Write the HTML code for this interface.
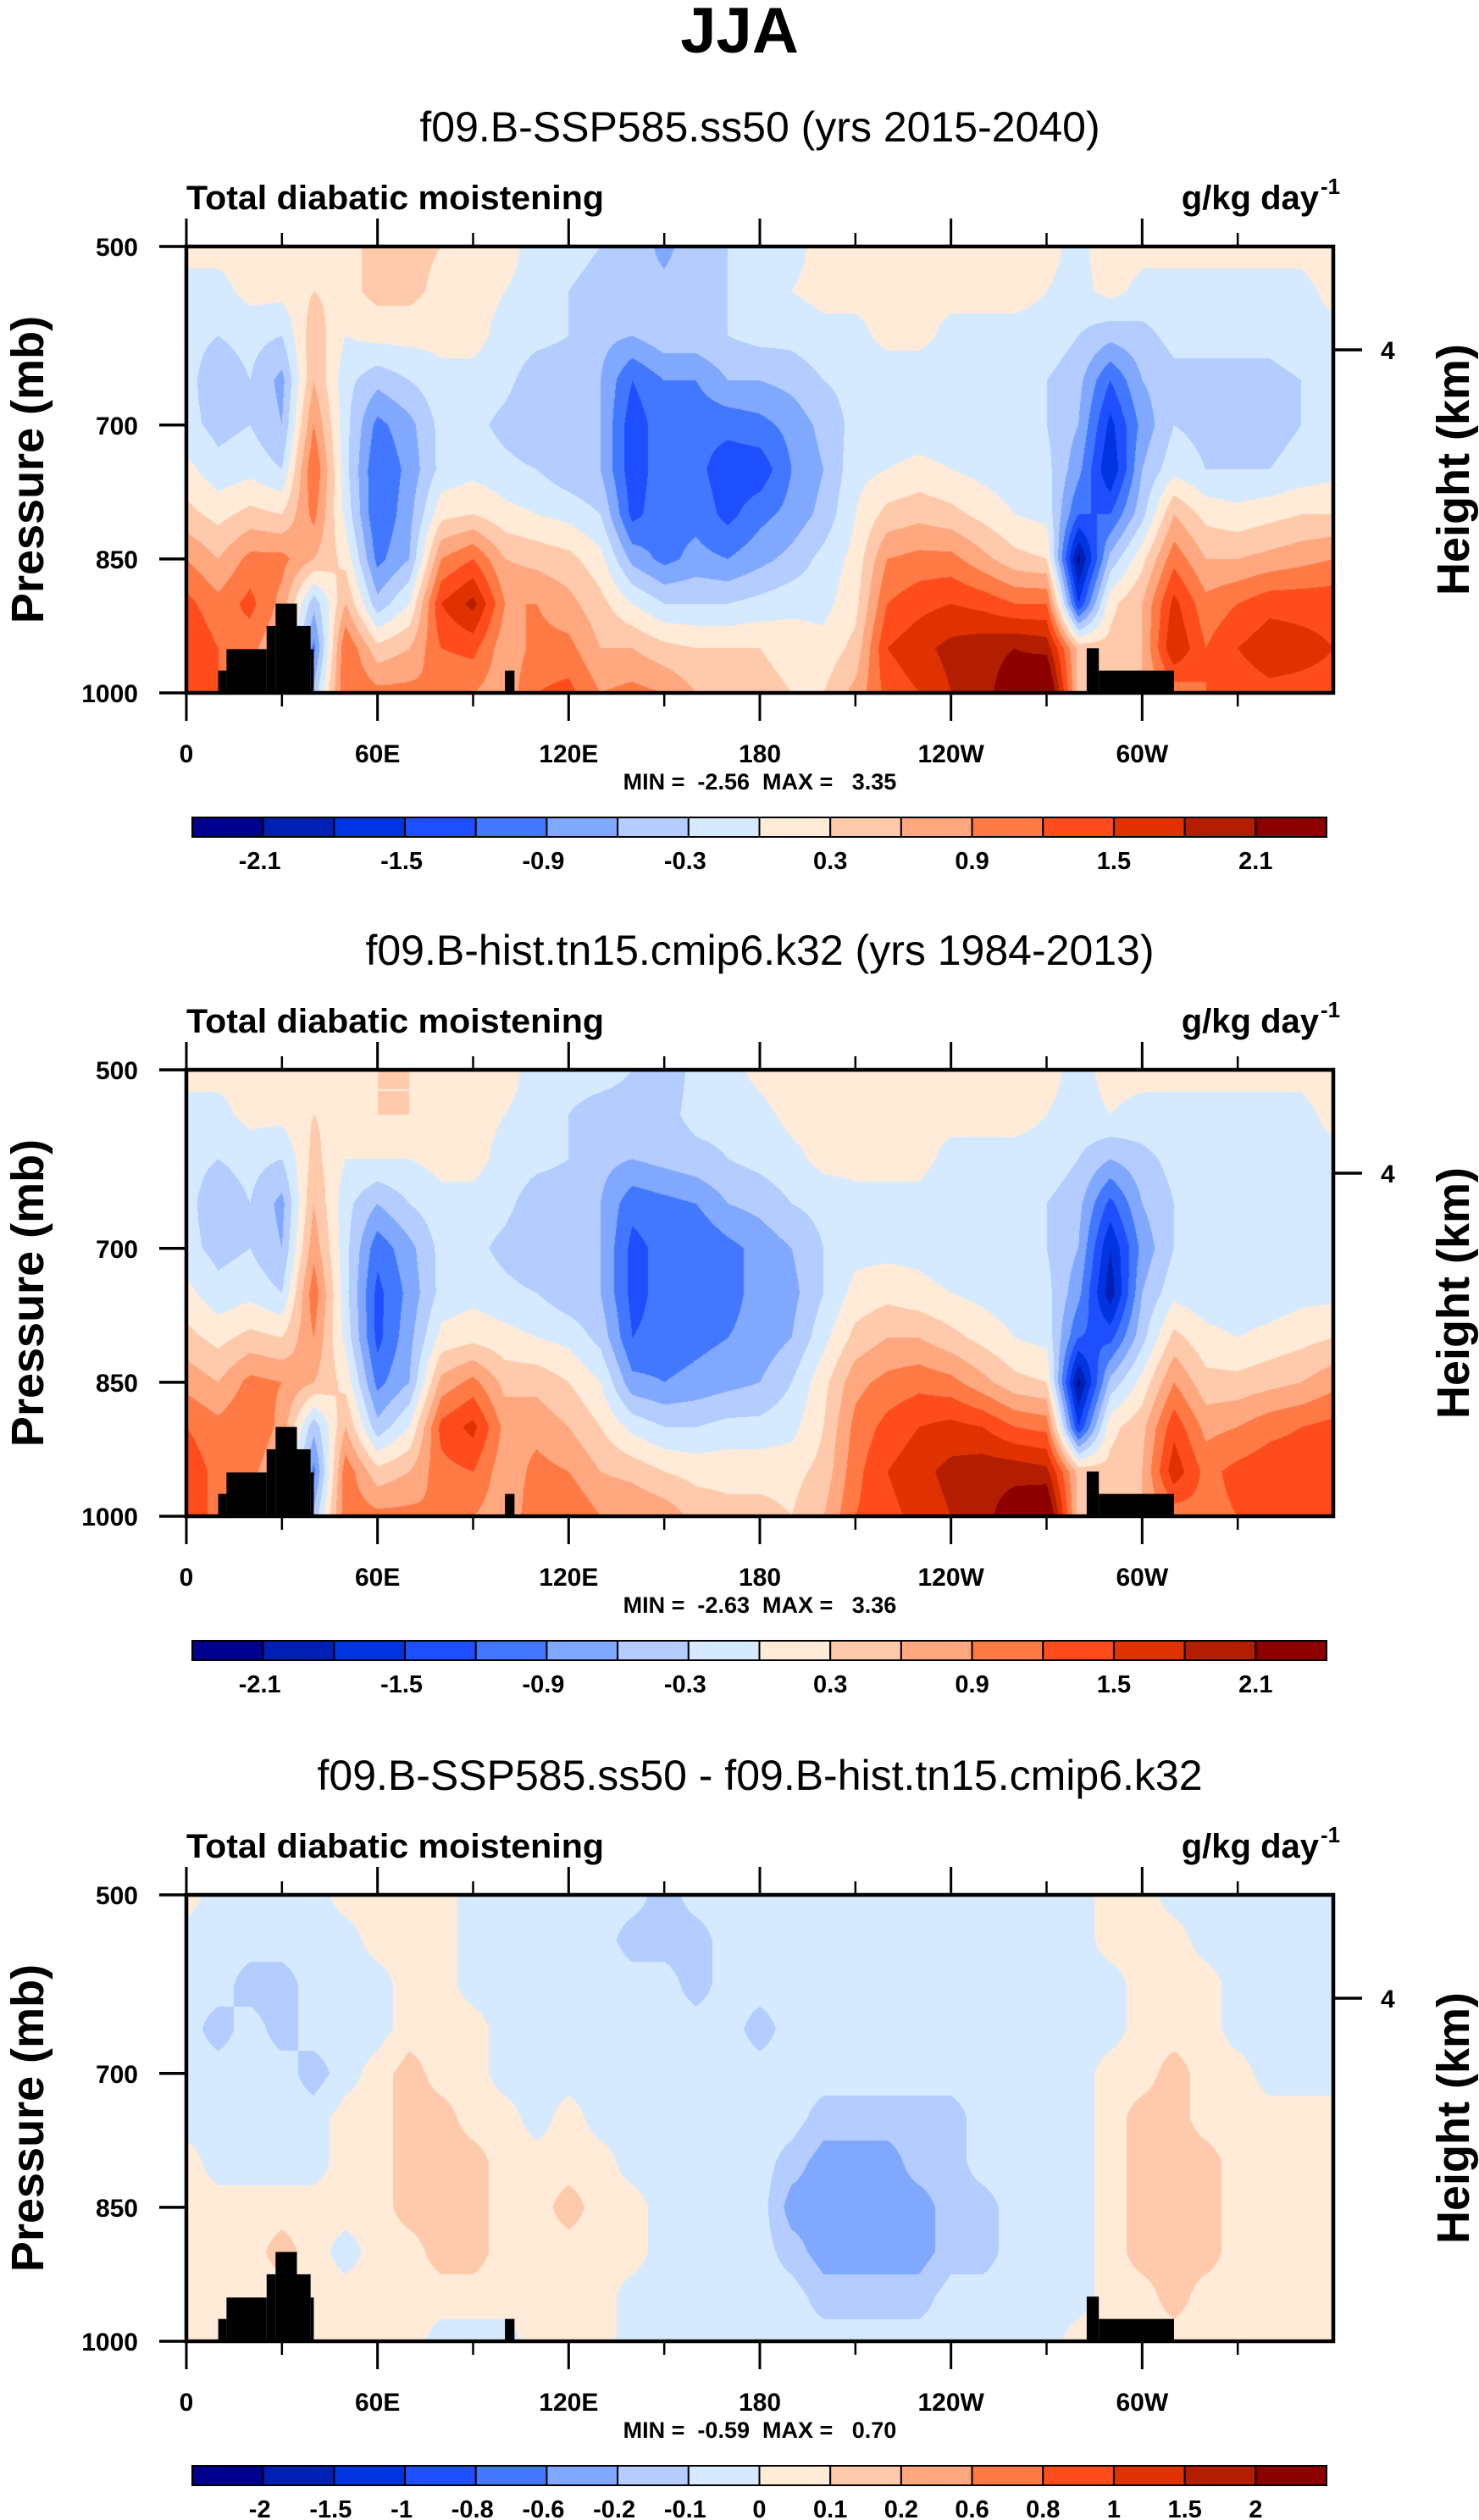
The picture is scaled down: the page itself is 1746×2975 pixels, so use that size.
<!DOCTYPE html>
<html><head><meta charset="utf-8">
<style>
html,body{margin:0;padding:0;background:#fff;}
#page{position:relative;width:1746px;height:2975px;overflow:hidden;background:#fff;}
canvas{position:absolute;}
svg{position:absolute;left:0;top:0;}
text{font-family:"Liberation Sans",Arial,sans-serif;white-space:pre;}
</style></head>
<body>
<div id="page">
<canvas id="c1" width="1354" height="527" style="left:220px;top:291px"></canvas>
<canvas id="c2" width="1354" height="527" style="left:220px;top:1263px"></canvas>
<canvas id="c3" width="1354" height="527" style="left:220px;top:2237px"></canvas>
<svg id="ov" width="1746" height="2975"></svg>
</div>
<script>
// ---- data ----
const lons = [0,10,20,30,40,50,60,70,80,90,100,110,120,130,140,150,160,170,180,190,200,210,220,230,240,250,260,270,280,290,300,310,320,330,340,350,360];
const pressures = [500,550,600,650,700,750,800,850,900,950,1000];
const levels1 = [-2.1,-1.8,-1.5,-1.2,-0.9,-0.6,-0.3,0,0.3,0.6,0.9,1.2,1.5,1.8,2.1];
const levelLabels1 = ['-2.1','','-1.5','','-0.9','','-0.3','','0.3','','0.9','','1.5','','2.1'];
const levels3 = [-2,-1.5,-1,-0.8,-0.6,-0.2,-0.1,0,0.1,0.2,0.6,0.8,1,1.5,2];
const levelLabels3 = ['-2','-1.5','-1','-0.8','-0.6','-0.2','-0.1','0','0.1','0.2','0.6','0.8','1','1.5','2'];
const colors = ['#00008f','#0020b4','#0034e0','#1e4fff','#4277ff','#80a8ff','#b4ccff','#d6eaff','#ffebd8','#ffcaac','#ffa880','#ff7a45','#ff4c1c','#e03200','#b41e00','#8c0000'];
const xTickLons = [0,60,120,180,240,300];
const xTickLabels = ['0','60E','120E','180','120W','60W'];
const xMinorLons = [30,90,150,210,270,330];
const yTicks = [500,700,850,1000];
const landSegs = [[10,12.6,975],[12.6,25.2,951],[25.2,28,925],[28,34.7,900],[34.7,39,925],[39,40,951],[100,103,975],[282.6,286.4,950],[286.4,310,975]];
const minmax = ['MIN =  -2.56  MAX =   3.35','MIN =  -2.63  MAX =   3.36','MIN =  -0.59  MAX =   0.70'];
const subtitles = ['f09.B-SSP585.ss50 (yrs 2015-2040)','f09.B-hist.tn15.cmip6.k32 (yrs 1984-2013)','f09.B-SSP585.ss50 - f09.B-hist.tn15.cmip6.k32'];

const field1 = [
[0.1,-0.1,-0.2,-0.2,-0.2,0.1,0.4,0.9,1.3,1.5,1.5],
[0.1,-0.1,-0.3,-0.5,-0.4,-0.2,0.2,0.6,1.0,1.2,1.2],
[0.1,0.1,-0.2,-0.3,-0.3,-0.1,0.4,1.0,1.3,1.0,0.9],
[0.1,0.1,-0.3,-0.7,-0.6,-0.3,0.3,1.0,0.8,0.6,0.6],
[0.2,0.3,0.5,0.6,0.9,1.2,1.0,0.6,-0.5,-1.0,-0.5],
[0.2,0.2,0.0,-0.2,-0.2,-0.2,-0.1,0.2,0.6,1.2,1.2],
[0.4,0.4,0.1,-0.5,-1.0,-1.2,-1.2,-1.0,-0.5,0.4,1.0],
[0.4,0.4,0.1,-0.3,-0.7,-0.8,-0.7,-0.6,0.0,0.6,1.0],
[0.3,0.2,0.1,-0.1,-0.2,-0.2,0.2,0.9,1.5,1.2,0.9],
[0.1,0.1,0.1,-0.1,-0.2,-0.1,0.3,1.2,1.9,1.3,0.9],
[0.1,0.0,-0.1,-0.2,-0.4,-0.2,0.1,0.6,0.9,0.7,0.7],
[-0.1,-0.1,-0.2,-0.5,-0.6,-0.3,0.0,0.5,0.9,1.0,1.2],
[-0.2,-0.3,-0.3,-0.5,-0.6,-0.5,-0.1,0.4,0.7,1.0,1.3],
[-0.3,-0.4,-0.5,-0.6,-0.6,-0.6,-0.3,0.1,0.4,0.6,0.9],
[-0.4,-0.5,-0.6,-1.2,-1.4,-1.4,-1.3,-0.7,0.0,0.6,1.0],
[-0.7,-0.5,-0.4,-0.9,-1.0,-1.0,-1.0,-1.0,-0.3,0.4,0.9],
[-0.4,-0.4,-0.4,-0.9,-1.1,-1.1,-1.0,-0.8,-0.3,0.3,0.6],
[-0.3,-0.3,-0.3,-0.6,-1.1,-1.4,-1.3,-0.9,-0.3,0.3,0.4],
[-0.2,-0.2,-0.2,-0.6,-1.0,-1.4,-1.0,-0.7,-0.2,0.3,0.4],
[-0.1,0.0,-0.2,-0.5,-0.8,-0.9,-0.8,-0.5,-0.1,0.2,0.3],
[0.1,0.1,-0.1,-0.3,-0.5,-0.6,-0.5,-0.2,-0.1,0.1,0.3],
[0.1,0.1,-0.1,-0.2,-0.2,-0.1,0.0,0.1,0.2,0.4,0.7],
[0.1,0.1,0.1,-0.2,-0.2,0.0,0.4,0.9,1.2,1.5,1.3],
[0.1,0.1,0.1,-0.2,-0.2,0.1,0.5,1.0,1.4,1.7,1.5],
[0.1,0.1,-0.1,-0.2,-0.2,0.0,0.4,1.0,1.5,1.9,1.8],
[0.1,0.1,-0.1,-0.2,-0.2,-0.1,0.2,0.7,1.4,2.0,2.0],
[0.2,0.1,-0.1,-0.2,-0.2,-0.2,0.0,0.4,1.2,2.1,2.3],
[0.1,0.0,-0.1,-0.3,-0.3,-0.2,-0.1,0.3,1.2,2.0,2.7],
[-0.1,-0.1,-0.3,-0.5,-0.6,-0.8,-1.2,-2.2,-1.5,0.5,0.5],
[0.2,0.1,-0.5,-1.2,-1.6,-1.8,-1.2,-0.5,0.2,0.4,0.4],
[0.1,-0.1,-0.4,-0.6,-0.8,-0.6,-0.4,0.2,0.6,0.6,0.6],
[0.1,-0.1,-0.2,-0.4,-0.3,-0.1,0.6,1.1,1.6,1.8,1.0],
[0.1,-0.1,-0.2,-0.4,-0.4,-0.3,0.2,0.6,1.0,1.2,1.2],
[0.1,-0.1,-0.2,-0.4,-0.5,-0.3,0.1,0.6,1.2,1.5,1.3],
[0.1,-0.1,-0.2,-0.4,-0.4,-0.3,0.2,0.7,1.4,1.7,1.4],
[0.1,-0.1,-0.1,-0.3,-0.3,-0.2,0.3,0.8,1.4,1.6,1.4],
[0.2,0.1,-0.1,-0.2,-0.2,-0.1,0.3,0.9,1.4,1.5,1.4]
];
const field2 = [
[0.1,-0.1,-0.2,-0.2,-0.2,0.1,0.4,0.8,1.2,1.4,1.4],
[0.1,-0.1,-0.3,-0.5,-0.4,-0.2,0.2,0.6,1.0,1.1,1.1],
[0.1,0.1,-0.2,-0.3,-0.3,-0.1,0.4,1.0,1.2,1.0,0.9],
[0.1,0.1,-0.3,-0.7,-0.6,-0.3,0.3,0.9,0.8,0.6,0.6],
[0.2,0.3,0.4,0.6,0.8,1.1,0.9,0.6,-0.5,-1.0,-0.5],
[0.2,0.2,0.0,-0.2,-0.2,-0.2,-0.1,0.2,0.6,1.1,1.1],
[0.3,0.3,0.0,-0.6,-1.1,-1.3,-1.3,-1.0,-0.5,0.4,1.0],
[0.3,0.3,0.0,-0.3,-0.7,-0.8,-0.7,-0.6,0.0,0.6,1.0],
[0.2,0.2,0.1,-0.1,-0.2,-0.2,0.1,0.7,1.3,1.1,0.9],
[0.1,0.1,0.1,-0.1,-0.2,-0.1,0.2,1.0,1.6,1.2,0.9],
[0.1,0.0,-0.1,-0.2,-0.4,-0.2,0.1,0.5,0.8,0.7,0.7],
[-0.1,-0.1,-0.2,-0.5,-0.6,-0.3,0.0,0.5,0.8,1.0,1.1],
[-0.2,-0.3,-0.3,-0.5,-0.6,-0.5,-0.1,0.3,0.6,0.9,1.2],
[-0.2,-0.4,-0.5,-0.6,-0.6,-0.6,-0.4,0.0,0.3,0.6,0.9],
[-0.3,-0.4,-0.6,-1.1,-1.3,-1.3,-1.2,-0.8,-0.1,0.5,0.9],
[-0.5,-0.4,-0.5,-1.0,-1.1,-1.1,-1.1,-0.9,-0.3,0.3,0.8],
[-0.2,-0.2,-0.4,-0.9,-1.2,-1.1,-1.0,-0.8,-0.3,0.2,0.5],
[-0.1,-0.2,-0.3,-0.6,-1.0,-1.0,-0.9,-0.7,-0.2,0.2,0.4],
[0.1,-0.1,-0.2,-0.5,-0.8,-0.8,-0.8,-0.6,-0.2,0.2,0.4],
[0.2,0.1,-0.1,-0.3,-0.6,-0.7,-0.6,-0.3,-0.1,0.2,0.3],
[0.2,0.2,0.1,-0.2,-0.3,-0.3,-0.1,0.2,0.3,0.4,0.6],
[0.2,0.2,0.1,-0.1,-0.1,0.1,0.4,0.8,1.0,1.1,1.2],
[0.2,0.2,0.1,-0.1,-0.1,0.2,0.6,1.0,1.3,1.5,1.4],
[0.1,0.1,0.1,-0.1,-0.1,0.1,0.6,1.1,1.5,1.7,1.6],
[0.1,0.1,-0.1,-0.2,-0.2,0.0,0.4,1.0,1.6,1.9,1.8],
[0.1,0.1,-0.1,-0.2,-0.2,-0.1,0.2,0.7,1.5,2.0,2.0],
[0.2,0.1,-0.1,-0.2,-0.2,-0.2,0.0,0.4,1.2,2.0,2.3],
[0.1,0.0,-0.1,-0.3,-0.3,-0.2,-0.1,0.3,1.1,1.9,2.6],
[-0.1,-0.1,-0.3,-0.5,-0.6,-0.8,-1.2,-2.2,-1.5,0.5,0.5],
[0.1,0.0,-0.6,-1.3,-1.8,-2.0,-1.3,-0.5,0.2,0.4,0.4],
[0.1,-0.1,-0.4,-0.6,-0.8,-0.6,-0.4,0.1,0.5,0.6,0.6],
[0.1,-0.1,-0.2,-0.3,-0.3,-0.1,0.4,0.9,1.4,1.7,1.0],
[0.1,-0.1,-0.2,-0.3,-0.3,-0.2,0.1,0.4,0.8,1.1,1.1],
[0.1,-0.1,-0.1,-0.3,-0.3,-0.2,0.0,0.4,0.9,1.3,1.2],
[0.1,-0.1,-0.1,-0.3,-0.3,-0.2,0.1,0.5,1.1,1.4,1.3],
[0.1,-0.1,-0.1,-0.2,-0.2,-0.1,0.2,0.6,1.2,1.4,1.3],
[0.2,0.1,-0.1,-0.2,-0.2,-0.1,0.3,0.8,1.3,1.4,1.4]
];
const field3 = [
[0.05,-0.05,-0.05,-0.05,-0.05,-0.05,0.05,0.05,0.05,0.05,0.05],
[-0.05,-0.05,-0.05,-0.15,-0.05,-0.05,-0.05,0.05,0.05,0.05,0.05],
[-0.05,-0.05,-0.15,-0.05,-0.05,-0.05,-0.05,0.05,0.05,0.05,0.05],
[-0.05,-0.05,-0.15,-0.15,-0.05,-0.05,-0.05,0.05,0.15,0.05,0.05],
[-0.05,-0.05,-0.05,-0.05,-0.15,-0.05,-0.05,0.05,0.05,0.05,0.05],
[0.05,-0.05,-0.05,-0.05,-0.05,0.05,0.05,0.05,-0.05,0.05,0.05],
[0.05,0.05,-0.05,-0.05,0.05,0.05,0.05,0.05,0.05,0.05,0.05],
[0.05,0.05,0.05,0.05,0.15,0.15,0.15,0.15,0.05,0.05,0.05],
[0.05,0.05,0.05,0.05,0.05,0.15,0.15,0.15,0.15,0.05,-0.05],
[-0.05,-0.05,-0.05,0.05,0.05,0.05,0.15,0.15,0.15,0.05,-0.05],
[-0.05,-0.05,-0.05,-0.05,-0.05,0.05,0.05,0.05,0.05,0.05,-0.05],
[-0.05,-0.05,-0.05,-0.05,-0.05,-0.05,0.05,0.05,0.05,0.05,0.05],
[-0.05,-0.05,-0.05,-0.05,-0.05,0.05,0.05,0.15,0.05,0.05,0.05],
[-0.05,-0.05,-0.05,-0.05,-0.05,-0.05,0.05,0.05,0.05,0.05,0.05],
[-0.05,-0.15,-0.05,-0.05,-0.05,-0.05,-0.05,0.05,0.05,-0.05,-0.05],
[-0.15,-0.15,-0.05,-0.05,-0.05,-0.05,-0.05,-0.05,-0.05,-0.05,-0.05],
[-0.05,-0.15,-0.15,-0.05,-0.05,-0.05,-0.05,-0.05,-0.05,-0.05,-0.05],
[-0.05,-0.05,-0.05,-0.05,-0.05,-0.05,-0.05,-0.05,-0.05,-0.05,-0.05],
[-0.05,-0.05,-0.05,-0.15,-0.05,-0.05,-0.05,-0.05,-0.05,-0.05,-0.05],
[-0.05,-0.05,-0.05,-0.05,-0.05,-0.05,-0.15,-0.25,-0.15,-0.05,-0.05],
[-0.05,-0.05,-0.05,-0.05,-0.05,-0.15,-0.25,-0.25,-0.25,-0.15,-0.05],
[-0.05,-0.05,-0.05,-0.05,-0.05,-0.15,-0.25,-0.25,-0.25,-0.15,-0.05],
[-0.05,-0.05,-0.05,-0.05,-0.05,-0.15,-0.25,-0.25,-0.25,-0.15,-0.05],
[-0.05,-0.05,-0.05,-0.05,-0.05,-0.15,-0.15,-0.25,-0.25,-0.15,-0.05],
[-0.05,-0.05,-0.05,-0.05,-0.05,-0.15,-0.15,-0.15,-0.15,-0.05,-0.05],
[-0.05,-0.05,-0.05,-0.05,-0.05,-0.05,-0.05,-0.15,-0.15,-0.05,-0.05],
[-0.05,-0.05,-0.05,-0.05,-0.05,-0.05,-0.05,-0.05,-0.05,-0.05,-0.05],
[-0.05,-0.05,-0.05,-0.05,-0.05,-0.05,-0.05,-0.05,-0.05,-0.05,-0.05],
[-0.05,-0.05,-0.05,-0.05,-0.05,-0.05,-0.05,-0.05,-0.05,-0.05,0.05],
[0.05,0.05,-0.05,-0.05,0.05,0.05,0.05,0.05,0.05,0.05,0.05],
[0.05,0.05,0.05,0.05,0.05,0.15,0.15,0.15,0.15,0.05,0.05],
[-0.05,0.05,0.05,0.05,0.15,0.15,0.15,0.15,0.15,0.15,0.05],
[-0.05,-0.05,0.05,0.05,0.05,0.05,0.15,0.15,0.15,0.05,0.05],
[-0.05,-0.05,-0.05,-0.05,0.05,0.05,0.05,0.05,0.05,0.05,0.05],
[-0.05,-0.05,-0.05,-0.05,-0.05,0.05,0.05,0.05,0.05,0.05,0.05],
[-0.05,-0.05,-0.05,-0.05,-0.05,0.05,0.05,0.05,0.05,0.05,0.05],
[-0.05,-0.05,-0.05,-0.05,-0.05,0.05,0.05,0.05,0.05,0.05,0.05]
];

// ---- layout ----
const PL = 220, PR = 1574, PW = PR - PL, PH = 527;
const panelTops = [291, 1263, 2237];
const SVGNS = 'http://www.w3.org/2000/svg';
const ov = document.getElementById('ov');
function xScale(lon){ return PL + lon/360*PW; }
function yScale(p, top){ return top + (p-500)/500*PH; }
function hexToRgb(h){ return [parseInt(h.substr(1,2),16),parseInt(h.substr(3,2),16),parseInt(h.substr(5,2),16)]; }
const rgb = colors.map(hexToRgb);

function mk(tag, attrs, parent){
  const e = document.createElementNS(SVGNS, tag);
  for (const k in attrs) e.setAttribute(k, attrs[k]);
  (parent||ov).appendChild(e);
  return e;
}

function sample(field, lon, p){
  const fx = (lon - lons[0]) / (lons[1]-lons[0]);
  const fy = (p - pressures[0]) / (pressures[1]-pressures[0]);
  let i = Math.min(Math.floor(fx), lons.length-2), j = Math.min(Math.floor(fy), pressures.length-2);
  const tx = fx - i, ty = fy - j;
  const a = field[i][j], b = field[i+1][j], c = field[i][j+1], d = field[i+1][j+1];
  return (a*(1-tx)+b*tx)*(1-ty) + (c*(1-tx)+d*tx)*ty;
}

function drawField(canvasId, field, levels){
  const cv = document.getElementById(canvasId);
  const ctx = cv.getContext('2d');
  const W = cv.width, H = cv.height;
  const img = ctx.createImageData(W, H);
  for (let y=0; y<H; y++){
    const p = 500 + (y+0.5)/H*500;
    for (let x=0; x<W; x++){
      const lon = (x+0.5)/W*360;
      const v = sample(field, lon, p);
      let k = 0; while (k < levels.length && v >= levels[k]) k++;
      const c = rgb[k], o = (y*W+x)*4;
      img.data[o]=c[0]; img.data[o+1]=c[1]; img.data[o+2]=c[2]; img.data[o+3]=255;
    }
  }
  ctx.putImageData(img, 0, 0);
}

drawField('c1', field1, levels1);
drawField('c2', field2, levels1);
drawField('c3', field3, levels3);

// title
let t = mk('text', {x:873, y:62, 'font-size':76, 'font-weight':'bold', 'text-anchor':'middle'});
t.textContent = 'JJA';



function drawPanel(idx, levels, labels){
  const top = panelTops[idx];
  const bot = top + PH;
  const g = mk('g', {});
  
  

  let s = mk('text', {x:897, y:top-124, 'font-size':50, 'text-anchor':'middle'}, g);
  s.textContent = subtitles[idx];
  
  

  let l = mk('text', {x:220, y:top-44, 'font-size':40, 'font-weight':'bold', textLength:493, lengthAdjust:'spacingAndGlyphs'}, g);
  l.textContent = 'Total diabatic moistening';
  
  

  let u = mk('text', {x:1557, y:top-44, 'font-size':40, 'font-weight':'bold', 'text-anchor':'end'}, g);
  u.textContent = 'g/kg day';
  
  
  let sup = mk('text', {x:1559, y:top-62, 'font-size':26, 'font-weight':'bold'}, g);
  sup.textContent = '-1';
  
  

  landSegs.forEach(sg => {
    const r = mk('rect', {x:xScale(sg[0]), y:yScale(sg[2], top), width:xScale(sg[1])-xScale(sg[0]), height:bot-yScale(sg[2], top), fill:'#000'}, g);
    
    
  });

  const f = mk('rect', {x:PL, y:top, width:PW, height:PH, fill:'none', stroke:'#000', 'stroke-width':4.5}, g);
  
  

  xTickLons.forEach((lon, i) => {
    const x = xScale(lon);
    const tk = mk('path', {d:`M${x},${top}V${top-33}M${x},${bot}V${bot+33}`, stroke:'#000', 'stroke-width':3}, g);
    
    
    const tl = mk('text', {x:x, y:bot+82, 'font-size':30, 'font-weight':'bold', 'text-anchor':'middle'}, g);
    tl.textContent = xTickLabels[i];
    
    
  });
  xMinorLons.forEach(lon => {
    const x = xScale(lon);
    const tk = mk('path', {d:`M${x},${top}V${top-16}M${x},${bot}V${bot+16}`, stroke:'#000', 'stroke-width':2.5}, g);
    
    
  });
  yTicks.forEach(p => {
    const y = yScale(p, top);
    const tk = mk('path', {d:`M${PL},${y}H${PL-32}`, stroke:'#000', 'stroke-width':3.5}, g);
    
    
    const tl = mk('text', {x:163, y:y+11, 'font-size':30, 'font-weight':'bold', 'text-anchor':'end'}, g);
    tl.textContent = String(p);
    
    
  });
  const ry = top + 122;
  const rt = mk('path', {d:`M${PR},${ry}H${PR+34}`, stroke:'#000', 'stroke-width':3.5}, g);
  
  
  const rl = mk('text', {x:1630, y:ry+11, 'font-size':30, 'font-weight':'bold'}, g);
  rl.textContent = '4';
  
  

  const cy = top + PH/2;
  const ya = mk('text', {x:0, y:0, 'font-size':54, 'font-weight':'bold', 'text-anchor':'middle', transform:`translate(51,${cy}) rotate(-90)`}, g);
  ya.textContent = 'Pressure (mb)';
  
  
  const ya2 = mk('text', {x:0, y:0, 'font-size':54, 'font-weight':'bold', 'text-anchor':'middle', transform:`translate(1734,${cy}) rotate(-90)`}, g);
  ya2.textContent = 'Height (km)';
  
  

  const mm = mk('text', {x:897, y:bot+114, 'font-size':27, 'font-weight':'bold', 'text-anchor':'middle'}, g);
  mm.textContent = minmax[idx];
  
  

  const cbL = 227, cbR = 1566, cbT = top + 674, cbH = 23;
  const bw = (cbR - cbL) / colors.length;
  colors.forEach((c, i) => {
    const r = mk('rect', {x:cbL + i*bw, y:cbT, width:bw, height:cbH, fill:c, stroke:'#000', 'stroke-width':2}, g);
    
    
  });
  levels.forEach((lv, i) => {
    if (!labels[i]) return;
    const tl = mk('text', {x:cbL + (i+1)*bw - (labels[i][0]==='-'?4:0), y:cbT+61, 'font-size':29, 'font-weight':'bold', 'text-anchor':'middle'}, g);
    tl.textContent = labels[i];
    
    
  });
}
drawPanel(0, levels1, levelLabels1);
drawPanel(1, levels1, levelLabels1);
drawPanel(2, levels3, levelLabels3);
</script>
</body></html>
